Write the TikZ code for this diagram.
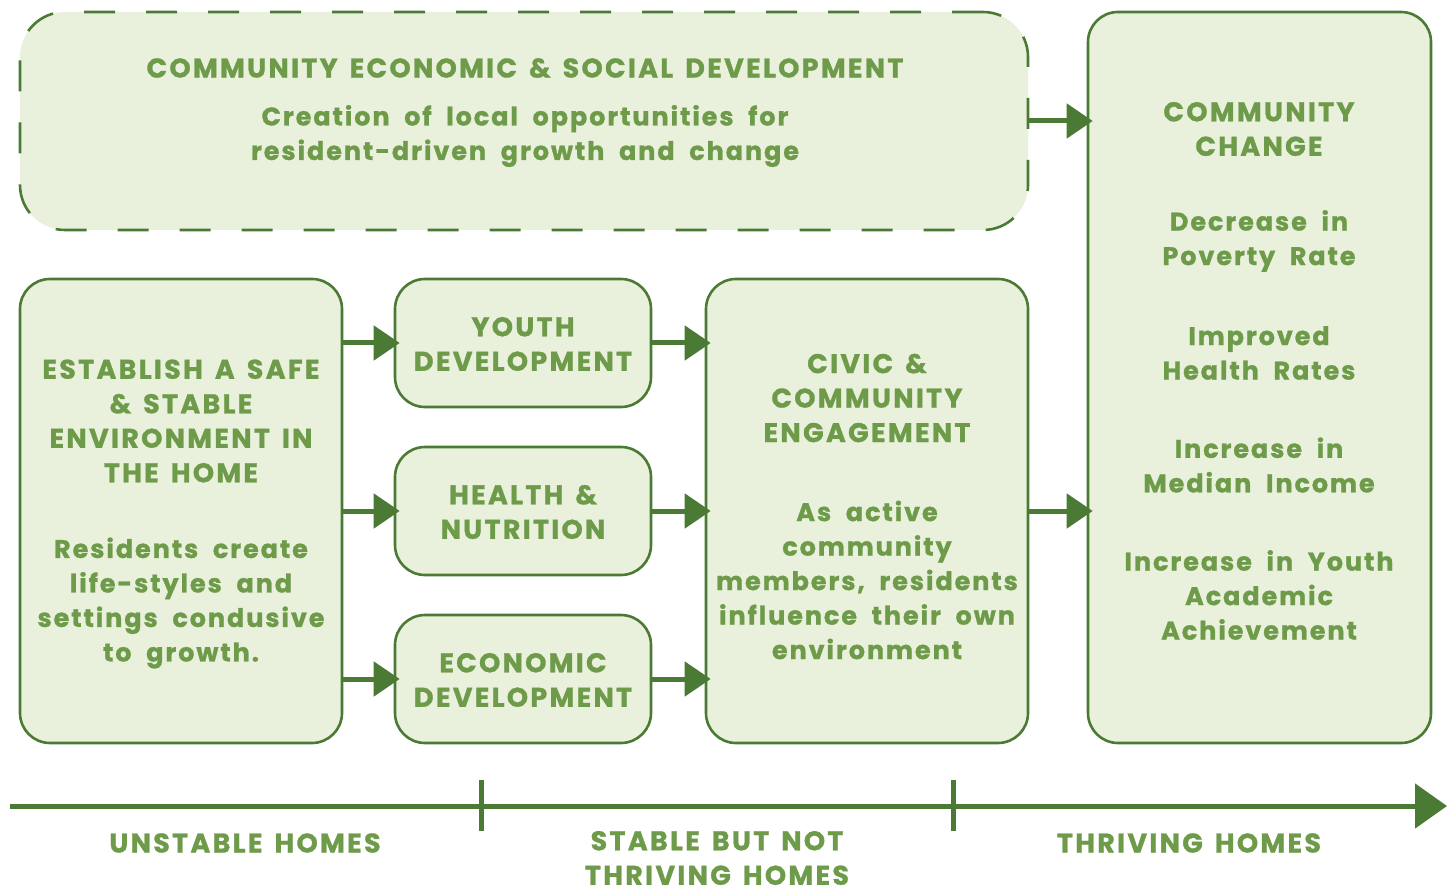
\documentclass[tikz,border=0pt]{standalone}
\usepackage{fontspec}
\setmainfont{Poppins}
\newfontfamily\titlef[LetterSpace=8.5,WordSpace=1.5,BoldFeatures={FakeBold=1}]{Poppins}
\newfontfamily\bodyf[LetterSpace=7.5,WordSpace=2.0,BoldFeatures={FakeBold=1}]{Poppins}
\usetikzlibrary{arrows.meta}
\definecolor{fillg}{HTML}{E9F1DD}
\definecolor{lineg}{HTML}{4B7A35}
\definecolor{textg}{HTML}{6E9B4A}
\tikzset{
  box/.style={draw=lineg, fill=fillg, line width=2.6pt, rounded corners=30pt, inner sep=0pt},
  dbox/.style={box, dash pattern=on 31pt off 31pt, rounded corners=45pt},
  ttl/.style={text=textg, font=\titlef\bfseries\fontsize{27}{34.5}\selectfont, align=center, inner sep=0pt},
  bdy/.style={text=textg, font=\bodyf\bfseries\fontsize{25.5}{34.5}\selectfont, align=center, inner sep=0pt},
  arr/.style={draw=lineg, line width=5pt, shorten >=-6pt, -{Triangle[length=26pt,width=34pt]}},
  tick/.style={draw=lineg, line width=5pt}
}
\begin{document}
\begin{tikzpicture}[x=1pt,y=-1pt]
\useasboundingbox (0,0) rectangle (1453,890);
% boxes
\node[dbox, minimum width=1008pt, minimum height=218pt] (T) at (524,121) {};
\node[box, minimum width=322pt, minimum height=464pt] (L) at (181,511) {};
\node[box, minimum width=256pt, minimum height=128pt] (Y) at (523,343) {};
\node[box, minimum width=256pt, minimum height=128pt] (H) at (523,511) {};
\node[box, minimum width=256pt, minimum height=128pt] (E) at (523,679) {};
\node[box, minimum width=322pt, minimum height=464pt] (C) at (867,511) {};
\node[box, minimum width=343pt, minimum height=731pt] (R) at (1259.5,377.5) {};
% texts
\node[ttl] (t1) at (525,68) {COMMUNITY ECONOMIC \& SOCIAL DEVELOPMENT};
\node[bdy] (t2) at (525,136) {Creation of local opportunities for\\resident-driven growth and change};
\node[ttl] (l1) at (181,421) {ESTABLISH A SAFE\\\& STABLE\\ENVIRONMENT IN\\THE HOME};
\node[bdy] (l2) at (181,603) {Residents create\\life-styles and\\settings condusive\\to growth.};
\node[ttl] (y1) at (523,344) {YOUTH\\DEVELOPMENT};
\node[ttl] (h1) at (523,512) {HEALTH \&\\NUTRITION};
\node[ttl] (e1) at (523,680) {ECONOMIC\\DEVELOPMENT};
\node[ttl] (c1) at (867,398) {CIVIC \&\\COMMUNITY\\ENGAGEMENT};
\node[bdy] (c2) at (867,580) {As active\\community\\members, residents\\influence their own\\environment};
\node[ttl] (r1) at (1259,129) {COMMUNITY\\CHANGE};
\node[bdy] (r2) at (1259,241) {Decrease in\\Poverty Rate};
\node[bdy] (r3) at (1259,353) {Improved\\Health Rates};
\node[bdy] (r4) at (1259,465) {Increase in\\Median Income};
\node[bdy] (r5) at (1259,595) {Increase in Youth\\Academic\\Achievement};
% arrows
\draw[arr] (L.east |- Y.west) -- (Y.west);
\draw[arr] (L.east |- H.west) -- (H.west);
\draw[arr] (L.east |- E.west) -- (E.west);
\draw[arr] (Y.east) -- (C.west |- Y.east);
\draw[arr] (H.east) -- (C.west |- H.east);
\draw[arr] (E.east) -- (C.west |- E.east);
\draw[arr] (T.east) -- (R.west |- T.east);
\draw[arr] (C.east |- H.east) -- (R.west |- H.east);
% timeline
\coordinate (s) at (10,806);
\coordinate (f) at (1447,806);
\coordinate (k1) at (481,806);
\coordinate (k2) at (953,806);
\draw[draw=lineg, line width=5pt, -{Triangle[length=32pt,width=44pt]}] (s) -- (f);
\draw[tick] ([yshift=-25pt]k1) -- ([yshift=26pt]k1);
\draw[tick] ([yshift=-25pt]k2) -- ([yshift=26pt]k2);
\node[ttl] (u) at (245,843) {UNSTABLE HOMES};
\node[ttl] (sb) at (717,858) {STABLE BUT NOT\\THRIVING HOMES};
\node[ttl] (th) at (1189,843) {THRIVING HOMES};
\end{tikzpicture}
\end{document}
